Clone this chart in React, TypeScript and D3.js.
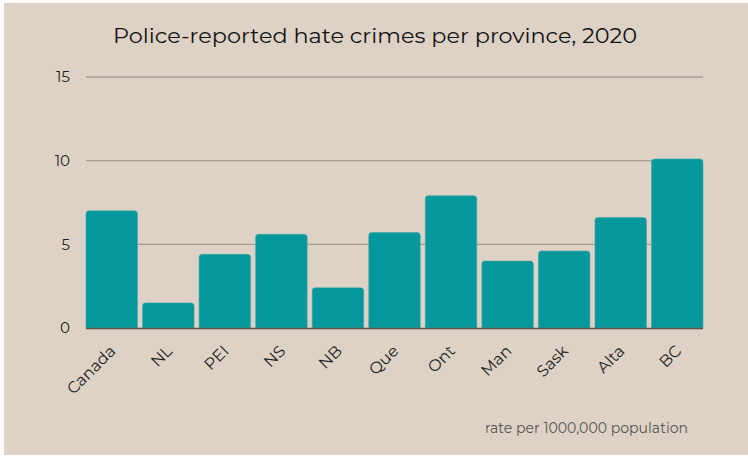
import React from "react";
import * as d3 from "d3";

const categories = ["Canada", "NL", "PEI", "NS", "NB", "Que", "Ont", "Man", "Sask", "Alta", "BC"];
const values = [7.0, 1.5, 4.4, 5.6, 2.4, 5.7, 7.9, 4.0, 4.6, 6.6, 10.1];
const yTicks = [0, 5, 10, 15];
const title = "Police-reported hate crimes per province, 2020";
const footnote = "rate per 1000,000 population";

const W = 748;
const H = 457;
const margin = { left: 86, right: 45, top: 77, bottom: 129 };
const FONT = "Montserrat, 'Open Sans', Lato, sans-serif";

function roundedTopBar(x: number, y: number, w: number, h: number, r: number) {
  const rr = Math.min(r, h, w / 2);
  return `M${x},${y + h}V${y + rr}Q${x},${y} ${x + rr},${y}H${x + w - rr}Q${x + w},${y} ${x + w},${y + rr}V${y + h}Z`;
}

export default function App() {
  const x = d3
    .scaleBand<string>()
    .domain(categories)
    .range([margin.left, W - margin.right])
    .paddingInner(0.09)
    .paddingOuter(0);
  const y = d3
    .scaleLinear()
    .domain([0, 15])
    .range([H - margin.bottom, margin.top]);
  const y0 = y(0);

  return (
    <svg
      width={W}
      height={H}
      style={{ position: "absolute", left: 0, top: 0, display: "block" }}
      fontFamily={FONT}
    >
      <rect x={0} y={0} width={W} height={H} fill="#ffffff" />
      <rect x={4} y={3} width={W - 4} height={H - 5} fill="#ddd2c5" />
      <text
        x={375}
        y={43}
        textAnchor="middle"
        fontSize={21}
        fill="#111"
        textLength={524}
        lengthAdjust="spacingAndGlyphs"
      >
        {title}
      </text>
      {yTicks.map((t) =>
        t === 0 ? null : (
          <line
            key={"g" + t}
            x1={margin.left}
            x2={W - margin.right}
            y1={y(t)}
            y2={y(t)}
            stroke="#a59c92"
            strokeWidth={1.3}
          />
        )
      )}
      {yTicks.map((t) => (
        <text
          key={"t" + t}
          x={70}
          y={y(t)}
          dy="0.35em"
          textAnchor="end"
          fontSize={15}
          fill="#222"
        >
          {t}
        </text>
      ))}
      {categories.map((c, i) => {
        const bx = x(c)!;
        const by = y(values[i]);
        return (
          <path
            key={c}
            d={roundedTopBar(bx, by, x.bandwidth(), y0 - by, 3)}
            fill="#04979b"
            stroke="#3aa9a8"
            strokeWidth={0.6}
          />
        );
      })}
      <line
        x1={margin.left}
        x2={W - margin.right}
        y1={y0 + 0.5}
        y2={y0 + 0.5}
        stroke="#5b534c"
        strokeWidth={1.5}
      />
      {categories.map((c) => {
        const cx = x(c)! + x.bandwidth() / 2 + 1;
        const cy = y0 + 20;
        return (
          <text
            key={"l" + c}
            transform={`translate(${cx},${cy}) rotate(-45)`}
            textAnchor="end"
            dy="0.35em"
            fontSize={16}
            fill="#222"
          >
            {c}
          </text>
        );
      })}
      <text x={485} y={433} fontSize={14} fill="#555" textLength={203} lengthAdjust="spacingAndGlyphs">
        {footnote}
      </text>
    </svg>
  );
}
